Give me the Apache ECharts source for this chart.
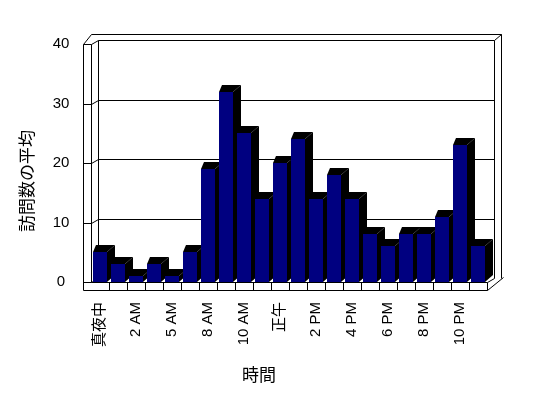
<!DOCTYPE html>
<html>
<head>
<meta charset="utf-8">
<script src="https://cdn.jsdelivr.net/npm/echarts@6/dist/echarts.min.js"></script>
<style>
  html, body { margin: 0; padding: 0; background: #fff; }
  #chart { width: 548px; height: 398px; }
</style>
</head>
<body>
<div id="chart"></div>
<script>
// hours shown on the axis (every other one is labelled)
var hours = ['真夜中', '1 AM', '2 AM', '3 AM', '5 AM', '7 AM', '8 AM', '9 AM', '10 AM', '11 AM', '正午',
             '1 PM', '2 PM', '3 PM', '4 PM', '5 PM', '6 PM', '7 PM', '8 PM', '9 PM', '10 PM', '11 PM'];
var visits = [5, 3, 1, 3, 1, 5, 19, 32, 25, 14, 20, 24, 14, 18, 14, 8, 6, 8, 8, 11, 23, 6];
var valueTicks = [0, 10, 20, 30, 40];

var latin = '"Liberation Sans", "Noto Sans CJK JP", sans-serif';
var cjk = '"Noto Sans CJK JP", sans-serif';

function px(v) { return Math.round(v) + 0.5; }

function seg(x1, y1, x2, y2) {
    return {
        type: 'line',
        shape: { x1: px(x1), y1: px(y1), x2: px(x2), y2: px(y2) },
        style: { stroke: '#000', lineWidth: 1 }
    };
}

// walls, floor and gridlines of the 3D box
function renderFrame(params, api) {
    var w = api.size([1, 0])[0];
    var p0 = api.coord([0, 0]);
    var L = p0[0] - w / 2;
    var R = api.coord([hours.length - 1, 0])[0] + w / 2;
    var Y0 = p0[1];
    var YT = api.coord([0, valueTicks[valueTicks.length - 1]])[1];
    var slab = 8, floorH = 8;
    var bx = 7, by = -4;          // front plane -> back wall
    var ox = 14, oy = -10;        // front plane -> outer back edge
    var kids = [];

    // side wall slab
    kids.push(seg(L - slab, YT, L - slab, Y0 + floorH));
    kids.push(seg(L, YT, L, Y0));
    kids.push(seg(L - slab, YT, L, YT));
    kids.push(seg(L - slab, YT, L, YT + oy));
    kids.push(seg(L, YT, L + bx, YT + by));
    // back wall
    kids.push(seg(L, YT + oy, R + ox, YT + oy));
    kids.push(seg(R + ox, YT + oy, R + ox, Y0 + by));
    kids.push(seg(L + bx, YT + by, R + bx, YT + by));
    kids.push(seg(R + bx, YT + by, R + bx, Y0 + by));
    kids.push(seg(R + bx, YT + by, R + ox, YT + oy));
    kids.push(seg(L + bx, YT + by, L + bx, Y0 + by));
    // gridlines
    valueTicks.forEach(function (v) {
        if (v === valueTicks[valueTicks.length - 1]) return;
        var y = api.coord([0, v])[1];
        kids.push(seg(L - slab, y, L, y));
        kids.push(seg(L, y, L + bx, y + by));
        if (v !== 0) kids.push(seg(L + bx, y + by, R + bx, y + by));
    });
    // floor
    kids.push(seg(L, Y0, R, Y0));
    kids.push(seg(L - slab, Y0 + floorH, R, Y0 + floorH));
    kids.push(seg(R, Y0, R, Y0 + floorH));
    kids.push(seg(R, Y0, R + bx, Y0 + by));
    kids.push(seg(R, Y0 + floorH, R + ox + 2, Y0 + by - 1));
    for (var i = 1; i < hours.length; i++) {
        var x = api.coord([i, 0])[0] - w / 2;
        kids.push(seg(x, Y0, x, Y0 + floorH));
    }
    return { type: 'group', children: kids };
}

function renderBar(params, api) {
    var idx = api.value(0);
    var top = api.coord([idx, api.value(1)]);
    var base = api.coord([idx, 0]);
    var hw = api.size([1, 0])[0] * 0.41;
    var x0 = Math.round(top[0] - hw), x1 = Math.round(top[0] + hw);
    var yt = Math.round(top[1]), yb = Math.round(base[1]);
    var dx = 8, dy = -7, dl = 3;
    return {
        type: 'group',
        children: [
            { type: 'polygon', shape: { points: [[x1, yt], [x1 + dx, yt + dy], [x1 + dx, yb + dy], [x1, yb]] },
              style: { fill: '#000' } },
            { type: 'polygon', shape: { points: [[x0, yt], [x0 + dl, yt + dy], [x1 + dx, yt + dy], [x1, yt]] },
              style: { fill: '#000' } },
            { type: 'rect', shape: { x: x0, y: yt, width: x1 - x0, height: yb - yt },
              style: { fill: '#000080' } }
        ]
    };
}

var chart = echarts.init(document.getElementById('chart'));
var option = {
    animation: false,
    backgroundColor: '#fff',
    grid: { left: 91, right: 61, top: 44, bottom: 116 },
    xAxis: {
        type: 'category',
        data: hours,
        axisLine: { show: false },
        axisTick: { show: false },
        axisLabel: {
            interval: 1,
            rotate: 90,
            margin: 20,
            fontSize: 15,
            color: '#000',
            fontFamily: latin
        }
    },
    yAxis: {
        type: 'value',
        min: 0,
        max: 40,
        interval: 10,
        axisLine: { show: false },
        axisTick: { show: false },
        splitLine: { show: false },
        axisLabel: {
            align: 'center',
            margin: 30,
            fontSize: 15,
            color: '#000',
            fontFamily: latin
        }
    },
    graphic: [
        { type: 'text', x: 27, y: 181, rotation: Math.PI / 2,
          style: { text: '訪問数の平均', fontSize: 17, fontFamily: cjk, fill: '#000', align: 'center', verticalAlign: 'middle' } },
        { type: 'text', x: 259, y: 375,
          style: { text: '時間', fontSize: 17, fontFamily: cjk, fill: '#000', align: 'center', verticalAlign: 'middle' } }
    ],
    series: [
        {
            type: 'custom',
            name: 'frame',
            data: [[0, 0]],
            renderItem: renderFrame,
            silent: true,
            z: 1
        },
        {
            type: 'custom',
            name: '訪問数の平均',
            data: visits.map(function (v, i) { return [i, v]; }),
            renderItem: renderBar,
            z: 2
        }
    ]
};
chart.setOption(option);
window.addEventListener('resize', function () {
    chart.resize();
});
</script>
</body>
</html>
